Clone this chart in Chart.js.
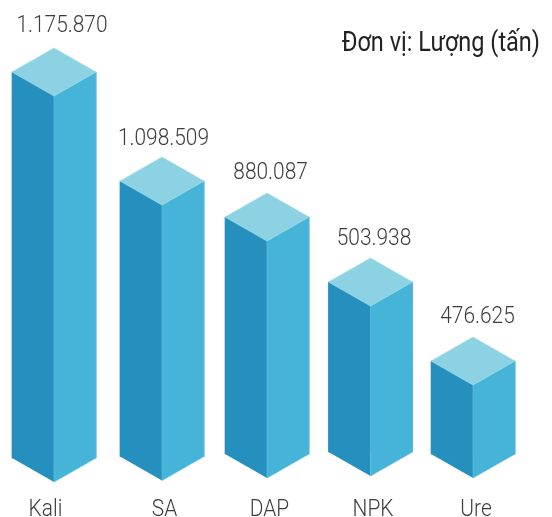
<!DOCTYPE html>
<html><head><meta charset="utf-8">
<style>html,body{margin:0;padding:0;background:#fff}#w{width:552px;height:517px}</style>
<script src="https://cdn.jsdelivr.net/npm/chart.js@4/dist/chart.umd.min.js"></script>
</head><body><div id="w"><canvas id="c" width="552" height="517"></canvas></div>
<script>
const categories = ['Kali','SA','DAP','NPK','Ure'];
const printedValues = ['1.175.870','1.098.509','880.087','503.938','476.625'];
// The picture is not drawn to scale: these are the drawn bar extents.
const drawnTop = [388,279,243,178,99];
const drawnBase = [2,3.5,6,8,6];

const barNudge = [0,3.25,3.5,2.25,0];
const tickNudge = [-8.5,5.75,6,4.75,3];
const labelDx = [8,1.5,3.6,3.5,4.5];
const labelGap = [16,12.5,14.5,13,14];
const SQUEEZE = 0.87, DEPTH = 24;

const isoBars = {
  id:'isoBars',
  afterDatasetsUpdate(chart){
    chart.getDatasetMeta(0).data.forEach((b,i)=>{ b.x += barNudge[i]; });
    const s = chart.scales.x; s._labelItems = null;
    s.getLabelItems().forEach((it,i)=>{ it.options.translation[0] += tickNudge[i]; });
  },
  afterDatasetsDraw(chart){
    const c = chart.ctx;
    const poly=(pts,fill,stroke)=>{c.beginPath();pts.forEach((p,i)=>i?c.lineTo(p[0],p[1]):c.moveTo(p[0],p[1]));c.closePath();c.fillStyle=fill;c.fill();if(stroke){c.strokeStyle=stroke;c.lineWidth=.7;c.stroke();}};
    chart.getDatasetMeta(0).data.forEach((b,i)=>{
      const l=b.x-42,r=b.x+42,m=b.x,t=b.y,u=b.base;
      poly([[l,t],[m,t+DEPTH],[m,u+DEPTH],[l,u]],'#2590BD');
      poly([[m,t+DEPTH],[r,t],[r,u],[m,u+DEPTH]],'#46B3D8','#62BEDD');
      poly([[l,t],[m,t-DEPTH],[r,t],[m,t+DEPTH]],'#8DD2E3','#A6DDEA');
      c.fillStyle='#3d3d3d';c.font='300 24px Roboto';c.textAlign='center';c.textBaseline='alphabetic';
      c.fillText(printedValues[i],b.x+labelDx[i],t-DEPTH-labelGap[i]);
    });
  }
};
const squeeze = {
  id:'squeeze',
  beforeInit(chart){
    const c=chart.ctx, o=c.fillText.bind(c);
    c.fillText=(t,x,y)=>{c.save();c.translate(x,y);c.scale(SQUEEZE,1);o(t,0,0);c.restore();};
  }
};
const hiddenAxis = (pos,w)=>({position:pos,min:0,max:400,display:true,ticks:{display:false},grid:{display:false},border:{display:false},afterFit(s){s.width=w;}});
new Chart(document.getElementById('c'),{
  type:'bar',
  data:{labels:categories,datasets:[{data:drawnTop.map((v,i)=>[drawnBase[i],v]),backgroundColor:'#2590BD',borderWidth:0,barThickness:84}]},
  options:{
    responsive:false,animation:false,
    layout:{padding:{left:0,right:12,top:0,bottom:0}},
    plugins:{
      legend:{display:false},tooltip:{enabled:false},
      title:{display:true,text:'Đơn vị: Lượng (tấn)',align:'end',color:'#222',font:{family:'Roboto',size:27,weight:400},padding:{top:27.6,bottom:0}}
    },
    scales:{
      x:{grid:{display:false},border:{display:false},ticks:{color:'#3d3d3d',font:{family:'Roboto',size:24,weight:300},padding:28,maxRotation:0,autoSkip:false},afterFit(s){s.height=57;}},
      y:hiddenAxis('left',1.6),
      y2:hiddenAxis('right',14.6)
    }
  },
  plugins:[squeeze,isoBars]
});
</script></body></html>
